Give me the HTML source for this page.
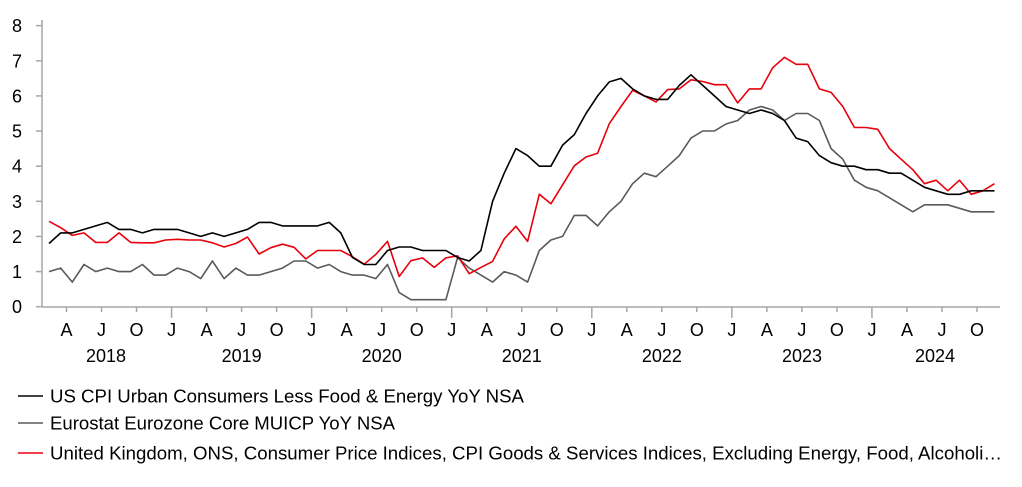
<!DOCTYPE html>
<html><head><meta charset="utf-8">
<style>
html,body{margin:0;padding:0;background:#fff;}
svg{display:block;font-family:"Liberation Sans",Arial,sans-serif;}
</style></head>
<body>
<svg id="c" width="1022" height="487" viewBox="0 0 1022 487" xmlns="http://www.w3.org/2000/svg"></svg>
<script>
const us=[1.8,2.1,2.1,2.2,2.3,2.4,2.2,2.2,2.1,2.2,2.2, 2.2,2.1,2.0,2.1,2.0,2.1,2.2,2.4,2.4,2.3,2.3,2.3, 2.3,2.4,2.1,1.4,1.2,1.2,1.6,1.7,1.7,1.6,1.6,1.6, 1.4,1.3,1.6,3.0,3.8,4.5,4.3,4.0,4.0,4.6,4.9,5.5, 6.0,6.4,6.5,6.2,6.0,5.9,5.9,6.3,6.6,6.3,6.0,5.7, 5.6,5.5,5.6,5.5,5.3,4.8,4.7,4.3,4.1,4.0,4.0,3.9, 3.9,3.8,3.8,3.6,3.4,3.3,3.2,3.2,3.3,3.3,3.3];
const ez=[1.0,1.1,0.7,1.2,1.0,1.1,1.0,1.0,1.2,0.9,0.9, 1.1,1.0,0.8,1.3,0.8,1.1,0.9,0.9,1.0,1.1,1.3,1.3, 1.1,1.2,1.0,0.9,0.9,0.8,1.2,0.4,0.2,0.2,0.2,0.2, 1.4,1.1,0.9,0.7,1.0,0.9,0.7,1.6,1.9,2.0,2.6,2.6, 2.3,2.7,3.0,3.5,3.8,3.7,4.0,4.3,4.8,5.0,5.0,5.2, 5.3,5.6,5.7,5.6,5.3,5.5,5.5,5.3,4.5,4.2,3.6,3.4, 3.3,3.1,2.9,2.7,2.9,2.9,2.9,2.8,2.7,2.7,2.7];
const uk=[2.43,2.25,2.03,2.1,1.83,1.83,2.1,1.83,1.82,1.82,1.9, 1.92,1.9,1.9,1.82,1.7,1.8,1.98,1.5,1.68,1.78,1.69,1.36, 1.6,1.6,1.6,1.42,1.21,1.49,1.86,0.86,1.31,1.39,1.12,1.39, 1.45,0.94,1.12,1.29,1.93,2.29,1.86,3.2,2.93,3.47,4.01,4.26, 4.37,5.21,5.7,6.16,6.0,5.83,6.18,6.2,6.46,6.41,6.32,6.32, 5.8,6.2,6.2,6.8,7.1,6.9,6.9,6.2,6.1,5.7,5.1,5.1, 5.05,4.5,4.2,3.9,3.5,3.6,3.3,3.6,3.2,3.3,3.5];
const X=m=>49+m*11.673, Y=v=>306.7-v*35.13;
let s='';
const ax='#a6a6a6';
s+=`<line x1="42" y1="20" x2="42" y2="307" stroke="${ax}" stroke-width="1.5"/>`;
for(let v=0;v<=8;v++){const y=Y(v);s+=`<line x1="36" y1="${y}" x2="42" y2="${y}" stroke="${ax}" stroke-width="1.5"/><text x="22" y="${y+6.5}" font-size="18" text-anchor="end" fill="#000">${v}</text>`;}
s+=`<line x1="42" y1="307" x2="1000" y2="307" stroke="${ax}" stroke-width="1.5"/>`;
const ml=['J','A','J','O'];
for(let m=2;m<=81;m+=3){const x=X(m-0.5);const q=((m+1)%12)/3;const jan=q===0;
 s+=`<line x1="${x}" y1="307" x2="${x}" y2="${jan?318:312}" stroke="${ax}" stroke-width="1.5"/>`;
 s+=`<text x="${x}" y="336" font-size="18" text-anchor="middle">${ml[q]}</text>`;}
const yrs=[[106,'2018'],[241.6,'2019'],[381.7,'2020'],[521.8,'2021'],[661.9,'2022'],[802,'2023'],[935,'2024']];
yrs.forEach(([x,t])=>s+=`<text x="${x}" y="362" font-size="18" text-anchor="middle">${t}</text>`);
const pl=(d,c)=>`<polyline fill="none" stroke="${c}" stroke-width="1.6" stroke-linejoin="round" points="${d.map((v,i)=>X(i).toFixed(1)+','+Y(v).toFixed(1)).join(' ')}"/>`;
s+=pl(ez,'#5a5a5a')+pl(uk,'#e8000b')+pl(us,'#000');
const lg=[[396,'#000','US CPI Urban Consumers Less Food &amp; Energy YoY NSA',474],[423,'#5a5a5a','Eurostat Eurozone Core MUICP YoY NSA',345],[453,'#e8000b','United Kingdom, ONS, Consumer Price Indices, CPI Goods &amp; Services Indices, Excluding Energy, Food, Alcoholi…',952]];
lg.forEach(([y,c,t,w])=>s+=`<line x1="18" y1="${y}" x2="43" y2="${y}" stroke="${c}" stroke-width="1.6"/><text x="50" y="${y+6.5}" font-size="18.5" textLength="${w}" lengthAdjust="spacingAndGlyphs">${t}</text>`);
document.getElementById('c').innerHTML=s;
</script>
</body></html>
